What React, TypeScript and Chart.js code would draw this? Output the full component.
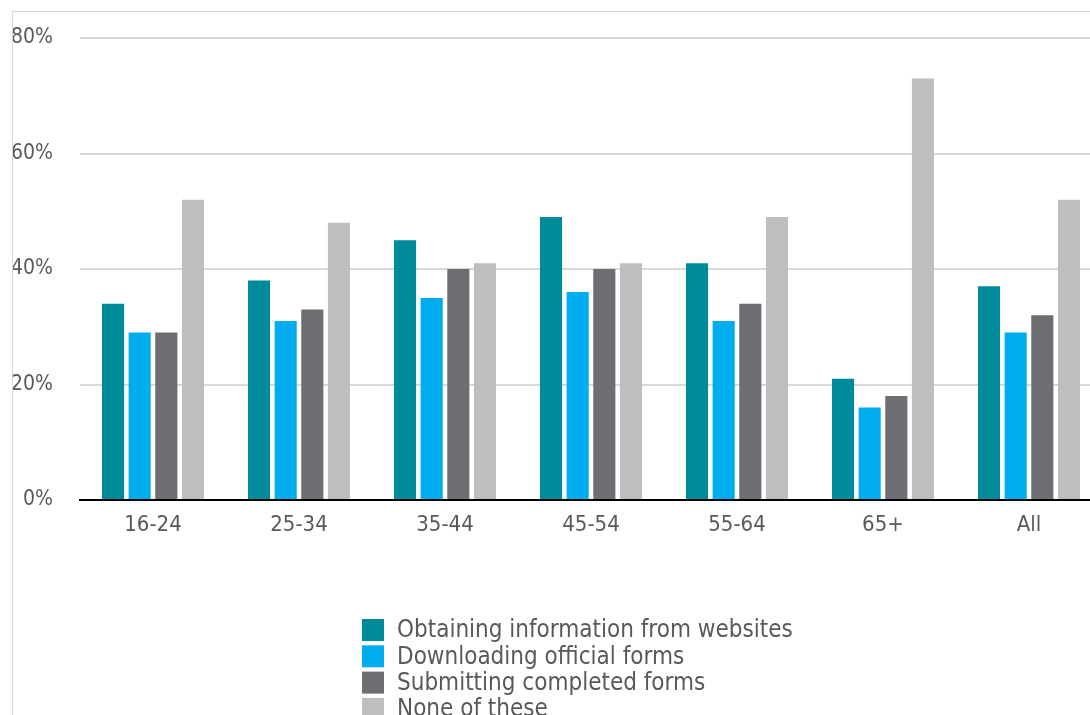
import React, { useEffect, useRef } from 'react';
import { Chart, registerables } from 'chart.js';

Chart.register(...registerables);

const categories = ['16-24', '25-34', '35-44', '45-54', '55-64', '65+', 'All'];
const seriesNames = [
  'Obtaining information from websites',
  'Downloading official forms',
  'Submitting completed forms',
  'None of these',
];
const obtainingInfo = [34, 38, 45, 49, 41, 21, 37];
const downloadingForms = [29, 31, 35, 36, 31, 16, 29];
const submittingForms = [29, 33, 40, 40, 34, 18, 32];
const noneOfThese = [52, 48, 41, 41, 49, 73, 52];
const yTickValues = [0, 20, 40, 60, 80];
const seriesColors = ['#008b9b', '#00aeef', '#6d6e71', '#bcbec0'];

const TEXT = '#595959';
const CONDENSED = '"DejaVu Sans Condensed", "Open Sans", sans-serif';

const stackedLegend = {
  id: 'stackedLegend',
  afterDraw(chart: any) {
    const { ctx, chartArea } = chart;
    ctx.save();
    ctx.font = '24px ' + CONDENSED;
    ctx.textBaseline = 'middle';
    ctx.textAlign = 'left';
    chart.data.datasets.forEach((ds: any, i: number) => {
      const cy = chartArea.bottom + 130 + i * 26.3;
      const x = chartArea.left + 282;
      ctx.fillStyle = ds.backgroundColor;
      ctx.fillRect(x, cy - 11, 22, 22);
      ctx.fillStyle = TEXT;
      ctx.fillText(ds.label, x + 35, cy + 1);
    });
    ctx.restore();
  },
};

export default function App() {
  const ref = useRef<HTMLCanvasElement>(null);

  useEffect(() => {
    const seriesValues = [obtainingInfo, downloadingForms, submittingForms, noneOfThese];
    const chart = new Chart(ref.current as HTMLCanvasElement, {
      type: 'bar',
      data: {
        labels: categories,
        datasets: seriesNames.map((name, i) => ({
          label: name,
          data: seriesValues[i],
          backgroundColor: seriesColors[i],
          borderWidth: 0,
          categoryPercentage: 0.73,
          barPercentage: 0.83,
        })),
      },
      options: {
        responsive: false,
        animation: false,
        devicePixelRatio: 1,
        layout: { padding: { top: 26, right: 11, bottom: 192, left: 0 } },
        plugins: {
          legend: { display: false },
          tooltip: { enabled: false },
        },
        scales: {
          x: {
            afterFit: (scale: any) => {
              scale.height = 40;
              scale.paddingLeft = 0;
              scale.paddingRight = 0;
            },
            grid: { display: false, drawTicks: false },
            border: { display: true, color: '#000000', width: 2 },
            ticks: {
              color: TEXT,
              font: { family: CONDENSED, size: 22 },
              padding: 12,
            },
          },
          y: {
            min: 0,
            max: 80,
            afterFit: (scale: any) => {
              scale.width = 67;
              scale.paddingTop = 0;
              scale.paddingBottom = 0;
            },
            afterBuildTicks: (scale: any) => {
              scale.ticks = yTickValues.map((v) => ({ value: v }));
            },
            grid: {
              color: (c: any) => (c.tick && c.tick.value === 0 ? 'rgba(0,0,0,0)' : '#d9d9d9'),
              lineWidth: 2,
              drawTicks: false,
            },
            border: { display: false },
            ticks: {
              color: TEXT,
              font: { family: CONDENSED, size: 21 },
              padding: 27,
              callback: (v: any) => v + '%',
            },
          },
        },
      },
      plugins: [stackedLegend],
    });
    return () => chart.destroy();
  }, []);

  return (
    <div
      style={{
        position: 'fixed',
        left: 0,
        top: 0,
        width: 1090,
        height: 715,
        overflow: 'hidden',
        background: '#ffffff',
      }}
    >
      <div
        style={{
          position: 'absolute',
          left: 12,
          top: 11,
          width: 1100,
          height: 740,
          borderTop: '1px solid #d9d9d9',
          borderLeft: '1px solid #d9d9d9',
        }}
      >
        <canvas ref={ref} width={1100} height={720} style={{ display: 'block', width: 1100, height: 720 }} />
      </div>
    </div>
  );
}
